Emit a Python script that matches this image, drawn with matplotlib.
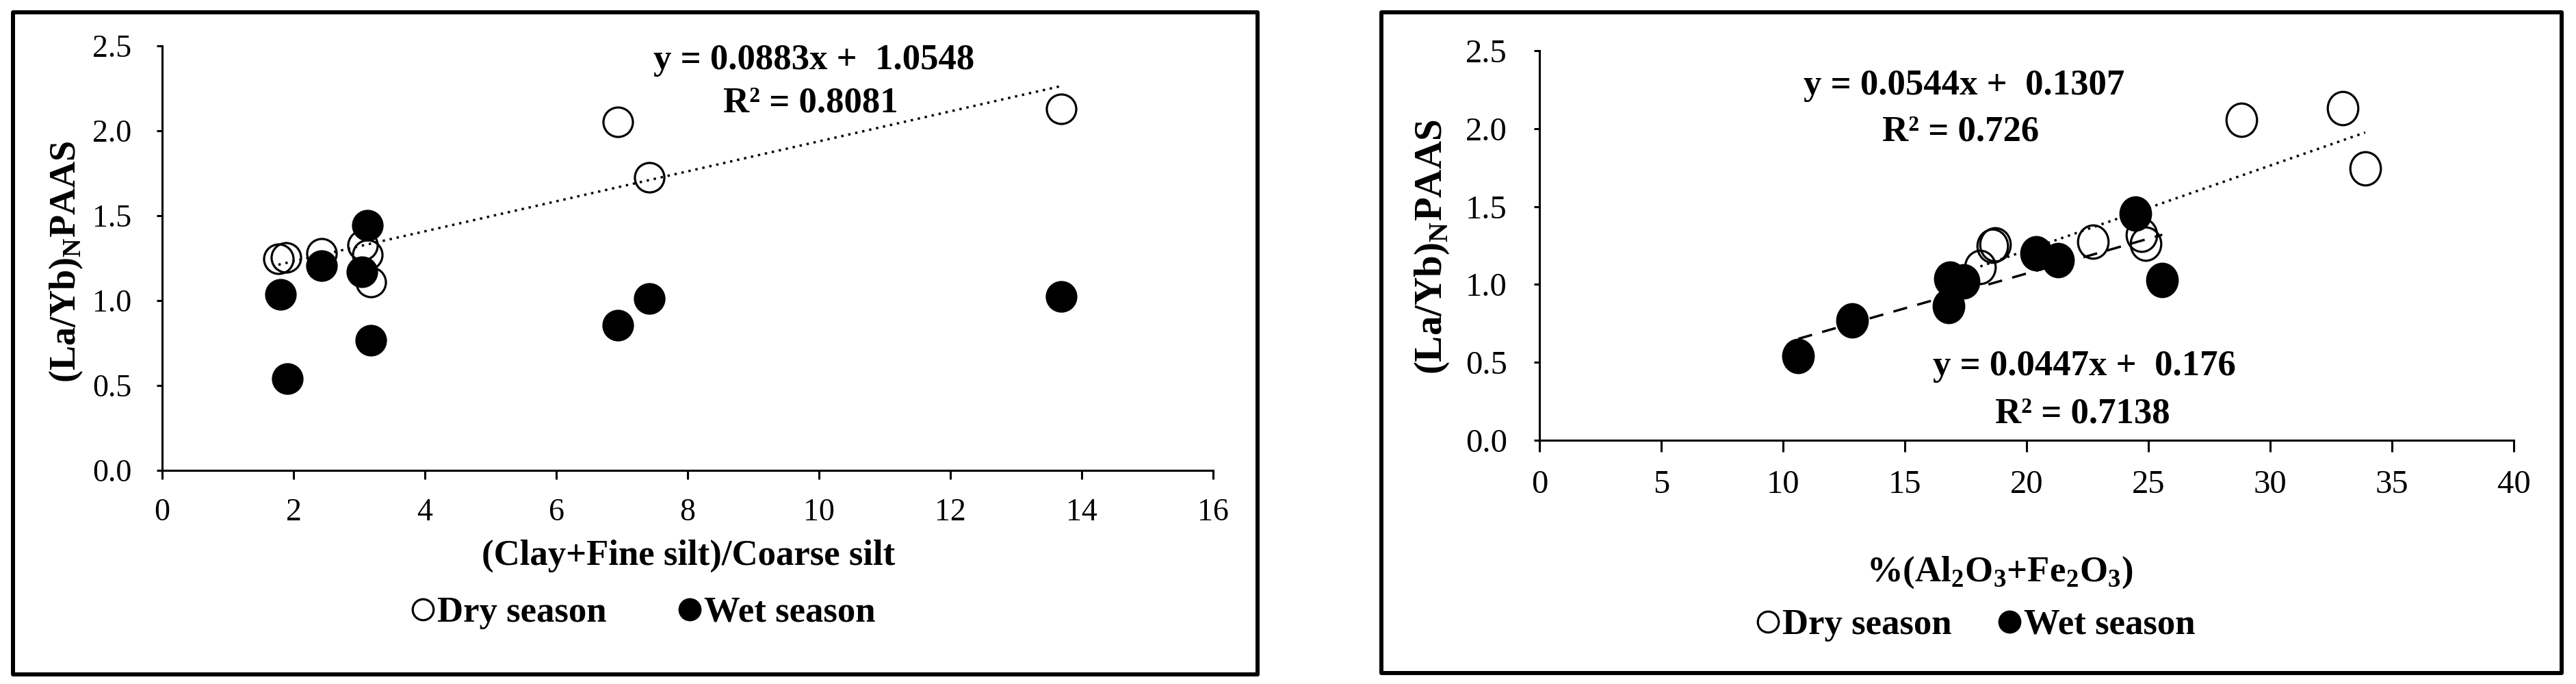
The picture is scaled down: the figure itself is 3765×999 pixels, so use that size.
import matplotlib
matplotlib.use('Agg')
import matplotlib.pyplot as plt
import numpy as np
from matplotlib.lines import Line2D
from matplotlib.patches import Rectangle
from matplotlib.path import Path
from matplotlib.transforms import Affine2D
from matplotlib.ticker import FormatStrFormatter, MultipleLocator

plt.rcParams['font.family'] = 'Liberation Serif'
plt.rcParams['mathtext.fontset'] = 'custom'
plt.rcParams['mathtext.rm'] = 'Liberation Serif'
plt.rcParams['mathtext.bf'] = 'Liberation Serif:bold'

# left panel: (La/Yb)N vs (clay+fine silt)/coarse silt
silt_dry = [1.77, 1.89, 2.43, 3.05, 3.12, 3.18, 6.94, 7.42, 13.69]
layb_dry = [1.245, 1.254, 1.278, 1.325, 1.27, 1.108, 2.054, 1.726, 2.128]
silt_wet = [1.80, 1.91, 2.43, 3.04, 3.13, 3.18, 6.94, 7.42, 13.69]
layb_wet = [1.036, 0.539, 1.204, 1.17, 1.442, 0.767, 0.854, 1.013, 1.026]
fit_silt_dry = [0.0883, 1.0548]
eq_silt_dry = ['y = 0.0883x +  1.0548', 'R² = 0.8081']

# right panel: (La/Yb)N vs %(Al2O3+Fe2O3)
oxide_dry = [18.1, 18.6, 18.7, 22.73, 24.73, 24.9, 28.83, 32.97, 33.9]
layb_dry_r = [1.11, 1.246, 1.258, 1.274, 1.316, 1.26, 2.058, 2.133, 1.744]
oxide_wet = [10.63, 12.85, 16.8, 16.85, 17.42, 20.4, 21.3, 24.47, 25.57]
layb_wet_r = [0.54, 0.767, 0.862, 1.038, 1.02, 1.198, 1.156, 1.456, 1.03]
fit_oxide_dry = [0.0544, 0.1307]
fit_oxide_wet = [0.0447, 0.176]
eq_oxide_dry = ['y = 0.0544x +  0.1307', 'R² = 0.726']
eq_oxide_wet = ['y = 0.0447x +  0.176', 'R² = 0.7138']

legend_labels = ['Dry season', 'Wet season']

W, H = 3765, 999
fig = plt.figure(figsize=(W / 100, H / 100), dpi=100)


def fx(px):
    return px / W


def fy(py):
    return 1 - py / H


def box(x0, y0, x1, y1):
    fig.add_artist(Rectangle((fx(x0), fy(y1)), fx(x1) - fx(x0), fy(y0) - fy(y1),
                             transform=fig.transFigure, fill=False, lw=4.3,
                             ec='black', joinstyle='round'))


def style_axes(ax, size, xlen, pad_x, pad_y):
    for s in ['top', 'right']:
        ax.spines[s].set_visible(False)
    for s in ['left', 'bottom']:
        ax.spines[s].set_linewidth(2.2)
    ax.tick_params(axis='both', direction='out', width=2.2, labelsize=size)
    ax.tick_params(axis='y', length=6, pad=pad_y)
    ax.tick_params(axis='x', length=xlen, pad=pad_x)
    ax.yaxis.set_major_formatter(FormatStrFormatter('%.1f'))
    ax.set_ylim(0, 2.5)
    ax.yaxis.set_major_locator(MultipleLocator(0.5))


def trend(ax, xs, coef, ls):
    xx = np.array([min(xs), max(xs)])
    ax.plot(xx, coef[0] * xx + coef[1], color='black', lw=2.5, ls=ls, zorder=4)


def legend(ax, cx, cy, spacing):
    hs = [Line2D([], [], ls='none', marker='o', ms=22, mfc='none', mec='black', mew=2.3),
          Line2D([], [], ls='none', marker='o', ms=22, mfc='black', mec='black', mew=2.3)]
    ax.legend(hs, legend_labels, loc='center', bbox_to_anchor=(fx(cx), fy(cy)),
              bbox_transform=fig.transFigure, ncol=2, frameon=False,
              prop={'weight': 'bold', 'size': 38}, handlelength=0.6,
              handletextpad=0.1, columnspacing=spacing, borderpad=0, borderaxespad=0)


bold = dict(fontsize=38, fontweight='bold', ha='center', va='center')

# ---- left panel
box(19, 18, 1838, 985)
ax1 = fig.add_axes([fx(237), fy(687), fx(1773) - fx(237), fy(67) - fy(687)])
style_axes(ax1, 33, 9, 20, 26)
ax1.set_xlim(0, 16)
ax1.xaxis.set_major_locator(MultipleLocator(2))
ax1.plot(silt_dry, layb_dry, ls='none', marker='o', ms=31, mfc='none', mec='black',
         mew=2.3, zorder=3, clip_on=False)
ax1.plot(silt_wet, layb_wet, ls='none', marker='o', ms=31, mfc='black', mec='black',
         mew=2.3, zorder=3, clip_on=False)
trend(ax1, silt_dry, fit_silt_dry, (0, (1, 2)))
fig.text(fx(1190), fy(88), eq_silt_dry[0], **bold)
fig.text(fx(1185), fy(150), eq_silt_dry[1], **bold)
fig.text(fx(97), fy(382), r'(La/Yb)$_\mathbf{N}$PAAS', rotation=90, ha='center',
         va='center', fontsize=39, fontweight='bold')
fig.text(fx(1006), fy(812), '(Clay+Fine silt)/Coarse silt', **bold)
legend(ax1, 941, 895, 2.0)

# ---- right panel
box(2019, 18, 3744, 983)
ax2 = fig.add_axes([fx(2250), fy(643), fx(3674) - fx(2250), fy(74) - fy(643)])
style_axes(ax2, 35, 12, 19, 28)
ax2.set_xlim(0, 40)
ax2.xaxis.set_major_locator(MultipleLocator(5))
ell = Affine2D().scale(1, 1.09).transform_path(Path.unit_circle())
ax2.plot(oxide_dry, layb_dry_r, ls='none', marker=ell, ms=35, mfc='none', mec='black',
         mew=2.3, zorder=3, clip_on=False)
ax2.plot(oxide_wet, layb_wet_r, ls='none', marker=ell, ms=35, mfc='black', mec='black',
         mew=2.3, zorder=3, clip_on=False)
trend(ax2, oxide_dry, fit_oxide_dry, (0, (1, 2)))
trend(ax2, oxide_wet, fit_oxide_wet, (0, (6, 4.4)))
fig.text(fx(2871), fy(125), eq_oxide_dry[0], **bold)
fig.text(fx(2866), fy(192), eq_oxide_dry[1], **bold)
fig.text(fx(3046), fy(535), eq_oxide_wet[0], **bold)
fig.text(fx(3044), fy(604), eq_oxide_wet[1], **bold)
fig.text(fx(2093), fy(361), r'(La/Yb)$_\mathbf{N}$PAAS', rotation=90, ha='center',
         va='center', fontsize=41, fontweight='bold')
fig.text(fx(2923), fy(836), r'%(Al$_\mathbf{2}$O$_\mathbf{3}$+Fe$_\mathbf{2}$O$_\mathbf{3}$)',
         **bold)
legend(ax2, 2888, 913, 1.3)

fig.savefig('out.png', dpi=100, facecolor='white')
